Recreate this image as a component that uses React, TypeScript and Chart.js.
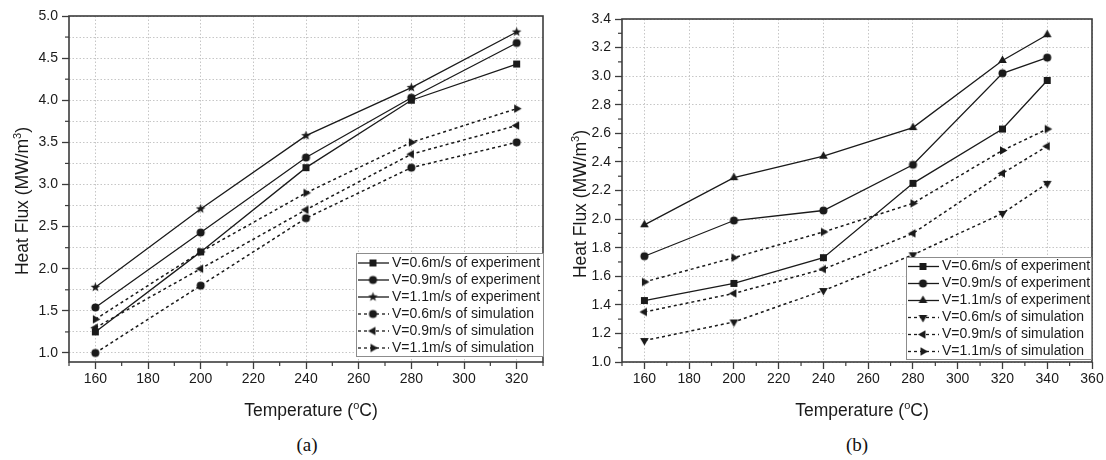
import React, { useEffect, useRef } from 'react';
import { Chart, registerables } from 'chart.js';

Chart.register(...registerables);

// ---------------- data ----------------
const temperaturesA = [160, 200, 240, 280, 320];
const expA06 = [1.25, 2.2, 3.2, 4.0, 4.43];
const expA09 = [1.54, 2.43, 3.32, 4.03, 4.68];
const expA11 = [1.78, 2.71, 3.58, 4.15, 4.81];
const simA06 = [1.0, 1.8, 2.6, 3.2, 3.5];
const simA09 = [1.3, 2.0, 2.7, 3.36, 3.7];
const simA11 = [1.4, 2.2, 2.9, 3.5, 3.9];

const temperaturesB = [160, 200, 240, 280, 320, 340];
const expB06 = [1.43, 1.55, 1.73, 2.25, 2.63, 2.97];
const expB09 = [1.74, 1.99, 2.06, 2.38, 3.02, 3.13];
const expB11 = [1.96, 2.29, 2.44, 2.64, 3.11, 3.29];
const simB06 = [1.15, 1.28, 1.5, 1.75, 2.04, 2.25];
const simB09 = [1.35, 1.48, 1.65, 1.9, 2.32, 2.51];
const simB11 = [1.56, 1.73, 1.91, 2.11, 2.48, 2.63];

const seriesLabels = [
  'V=0.6m/s of experiment',
  'V=0.9m/s of experiment',
  'V=1.1m/s of experiment',
  'V=0.6m/s of simulation',
  'V=0.9m/s of simulation',
  'V=1.1m/s of simulation',
];
const xTitleParts = ['Temperature (', 'o', 'C)'];
const yTitleParts = ['Heat Flux (MW/m', '3', ')'];
const panelLabels = ['(a)', '(b)'];

// ---------------- styles ----------------
const INK = '#1a1a1a';
const AXIS = '#3c3c3c';
const GRID = '#c6c6c6';
const FONT = "Arial, 'Liberation Sans', sans-serif";
const SERIF = "'Liberation Serif', 'Times New Roman', serif";

type Series = { data: number[]; marker: string; dashed: boolean };
type PanelCfg = {
  left: number;
  temps: number[];
  series: Series[];
  xMin: number; xMax: number; xStep: number; xMajor: number;
  yMin: number; yMax: number; yStep: number; yMajor: number; yGrid: number;
  padTop: number; padRight: number;
  legend: { x: number; y: number; w: number; h: number; first: number; rowH: number };
  yTitleX: number; yTitleY: number; xTitleDx: number; xTitleY: number;
};

const panelA: PanelCfg = {
  left: 0,
  temps: temperaturesA,
  series: [
    { data: expA06, marker: 'square', dashed: false },
    { data: expA09, marker: 'circle', dashed: false },
    { data: expA11, marker: 'star', dashed: false },
    { data: simA06, marker: 'circle', dashed: true },
    { data: simA09, marker: 'left', dashed: true },
    { data: simA11, marker: 'right', dashed: true },
  ],
  xMin: 150, xMax: 330, xStep: 10, xMajor: 20,
  yMin: 0.893, yMax: 5.0, yStep: 0.25, yMajor: 0.5, yGrid: 0.25,
  padTop: 16, padRight: 10,
  legend: { x: 356, y: 253, w: 187, h: 103, first: 10, rowH: 17 },
  yTitleX: 22, yTitleY: 201, xTitleDx: 5, xTitleY: 410,
};

const panelB: PanelCfg = {
  left: 553,
  temps: temperaturesB,
  series: [
    { data: expB06, marker: 'square', dashed: false },
    { data: expB09, marker: 'circle', dashed: false },
    { data: expB11, marker: 'up', dashed: false },
    { data: simB06, marker: 'down', dashed: true },
    { data: simB09, marker: 'left', dashed: true },
    { data: simB11, marker: 'right', dashed: true },
  ],
  xMin: 150, xMax: 360, xStep: 10, xMajor: 20,
  yMin: 1.0, yMax: 3.4, yStep: 0.1, yMajor: 0.2, yGrid: 0.2,
  padTop: 19, padRight: 14,
  legend: { x: 353, y: 257, w: 185, h: 102, first: 9.5, rowH: 17 },
  yTitleX: 27, yTitleY: 204, xTitleDx: 5, xTitleY: 410,
};

function isMult(v: number, step: number) {
  const r = v / step;
  return Math.abs(r - Math.round(r)) < 1e-6;
}

function makeMarker(kind: string): HTMLCanvasElement {
  const c = document.createElement('canvas');
  c.width = 13;
  c.height = 13;
  const ctx = c.getContext('2d')!;
  ctx.fillStyle = INK;
  const cx = 6.5, cy = 6.5;
  ctx.beginPath();
  const tri = (a0: number) => {
    const R = 5;
    for (let i = 0; i < 3; i++) {
      const a = a0 + (i * 2 * Math.PI) / 3;
      const x = cx + R * Math.cos(a), y = cy + R * Math.sin(a);
      if (i === 0) ctx.moveTo(x, y); else ctx.lineTo(x, y);
    }
    ctx.closePath();
  };
  if (kind === 'square') ctx.rect(cx - 3.5, cy - 3.5, 7, 7);
  else if (kind === 'circle') ctx.arc(cx, cy, 4, 0, Math.PI * 2);
  else if (kind === 'star') {
    for (let i = 0; i < 10; i++) {
      const r = i % 2 === 0 ? 5 : 2.1;
      const a = -Math.PI / 2 + (i * Math.PI) / 5;
      const x = cx + r * Math.cos(a), y = cy + r * Math.sin(a);
      if (i === 0) ctx.moveTo(x, y); else ctx.lineTo(x, y);
    }
    ctx.closePath();
  } else if (kind === 'up') tri(-Math.PI / 2);
  else if (kind === 'down') tri(Math.PI / 2);
  else if (kind === 'left') tri(Math.PI);
  else if (kind === 'right') tri(0);
  ctx.fill();
  return c;
}

function drawParts(ctx: CanvasRenderingContext2D, parts: string[], cx: number, baseline: number) {
  const big = `17.5px ${FONT}`;
  const small = `11px ${FONT}`;
  ctx.font = big;
  const w1 = ctx.measureText(parts[0]).width;
  const w3 = ctx.measureText(parts[2]).width;
  ctx.font = small;
  const w2 = ctx.measureText(parts[1]).width;
  let x = cx - (w1 + w2 + w3) / 2;
  ctx.textAlign = 'left';
  ctx.textBaseline = 'alphabetic';
  ctx.font = big;
  ctx.fillText(parts[0], x, baseline);
  x += w1;
  ctx.font = small;
  ctx.fillText(parts[1], x, baseline - 7.5);
  x += w2;
  ctx.font = big;
  ctx.fillText(parts[2], x, baseline);
}

function Panel({ cfg }: { cfg: PanelCfg }) {
  const ref = useRef<HTMLCanvasElement>(null);
  useEffect(() => {
    const canvas = ref.current!;
    const markers: Record<string, HTMLCanvasElement> = {};
    ['square', 'circle', 'star', 'up', 'down', 'left', 'right'].forEach((k) => (markers[k] = makeMarker(k)));

    const decor = {
      id: 'decor',
      afterDraw(chart: any) {
        const { ctx, chartArea: ca } = chart;
        ctx.save();
        // minor ticks
        ctx.strokeStyle = AXIS;
        ctx.lineWidth = 1.2;
        const xs = chart.scales.x, ys = chart.scales.y;
        xs.ticks.forEach((t: any) => {
          if (!isMult(t.value, cfg.xMajor) && isMult(t.value, cfg.xStep)) {
            const px = xs.getPixelForValue(t.value);
            ctx.beginPath(); ctx.moveTo(px, ca.bottom); ctx.lineTo(px, ca.bottom + 4); ctx.stroke();
          }
        });
        ys.ticks.forEach((t: any) => {
          if (!isMult(t.value, cfg.yMajor) && isMult(t.value, cfg.yStep)) {
            const py = ys.getPixelForValue(t.value);
            ctx.beginPath(); ctx.moveTo(ca.left - 4, py); ctx.lineTo(ca.left, py); ctx.stroke();
          }
        });
        // frame
        ctx.strokeStyle = AXIS;
        ctx.lineWidth = 1.6;
        ctx.strokeRect(ca.left, ca.top, ca.right - ca.left, ca.bottom - ca.top);
        // titles
        ctx.fillStyle = INK;
        drawParts(ctx, xTitleParts, (ca.left + ca.right) / 2 + cfg.xTitleDx, cfg.xTitleY + 6);
        ctx.save();
        ctx.translate(cfg.yTitleX, cfg.yTitleY);
        ctx.rotate(-Math.PI / 2);
        drawParts(ctx, yTitleParts, 0, 6);
        ctx.restore();
        // legend
        const L = cfg.legend;
        ctx.fillStyle = '#ffffff';
        ctx.fillRect(L.x, L.y, L.w, L.h);
        ctx.strokeStyle = '#8c8c8c';
        ctx.lineWidth = 1;
        ctx.strokeRect(L.x + 0.5, L.y + 0.5, L.w, L.h);
        cfg.series.forEach((s, i) => {
          const cy = L.y + L.first + i * L.rowH;
          ctx.strokeStyle = INK;
          ctx.lineWidth = 1.3;
          ctx.setLineDash(s.dashed ? [3, 3] : []);
          ctx.beginPath(); ctx.moveTo(L.x + 2, cy); ctx.lineTo(L.x + 33, cy); ctx.stroke();
          ctx.setLineDash([]);
          const m = markers[s.marker];
          ctx.drawImage(m, L.x + 17 - m.width / 2, cy - m.height / 2);
          ctx.fillStyle = INK;
          ctx.font = `14px ${FONT}`;
          ctx.textAlign = 'left';
          ctx.textBaseline = 'middle';
          ctx.fillText(seriesLabels[i], L.x + 36, cy);
        });
        ctx.restore();
      },
    };

    const chart = new Chart(canvas, {
      type: 'line',
      data: {
        datasets: cfg.series.map((s, i) => ({
          label: seriesLabels[i],
          data: cfg.temps.map((t, j) => ({ x: t, y: s.data[j] })),
          borderColor: INK,
          backgroundColor: INK,
          borderWidth: s.dashed ? 1.5 : 1.3,
          borderDash: s.dashed ? [3, 3] : [],
          pointStyle: markers[s.marker] as any,
          pointRadius: 4,
          pointHoverRadius: 4,
          fill: false,
          tension: 0,
        })),
      },
      options: {
        responsive: false,
        animation: false,
        devicePixelRatio: 1,
        layout: { padding: { left: 0, right: cfg.padRight, top: cfg.padTop, bottom: 0 } },
        plugins: { legend: { display: false }, tooltip: { enabled: false } },
        scales: {
          x: {
            type: 'linear',
            min: cfg.xMin,
            max: cfg.xMax,
            afterFit: (s: any) => { s.height = 60; },
            border: { display: false, dash: [1.5, 2] },
            grid: {
              lineWidth: 1,
              color: (c: any) => (c.tick && isMult(c.tick.value, cfg.xMajor) ? GRID : 'rgba(0,0,0,0)'),
              tickColor: (c: any) => (c.tick && isMult(c.tick.value, cfg.xMajor) ? AXIS : 'rgba(0,0,0,0)'),
              tickLength: 7,
              tickWidth: 1.3,
              tickBorderDash: [],
            },
            ticks: {
              stepSize: cfg.xStep,
              autoSkip: false,
              maxRotation: 0,
              includeBounds: false,
              padding: 2,
              color: INK,
              font: { family: FONT, size: 14 },
              callback: (v: any) => (isMult(Number(v), cfg.xMajor) ? String(v) : ''),
            },
          },
          y: {
            type: 'linear',
            min: cfg.yMin,
            max: cfg.yMax,
            afterFit: (s: any) => { s.width = 69; },
            border: { display: false, dash: [1.5, 2] },
            grid: {
              lineWidth: 1,
              color: (c: any) => (c.tick && isMult(c.tick.value, cfg.yGrid) ? GRID : 'rgba(0,0,0,0)'),
              tickColor: (c: any) => (c.tick && isMult(c.tick.value, cfg.yMajor) ? AXIS : 'rgba(0,0,0,0)'),
              tickLength: 7,
              tickWidth: 1.3,
              tickBorderDash: [],
            },
            ticks: {
              stepSize: cfg.yStep,
              autoSkip: false,
              includeBounds: false,
              padding: 4,
              color: INK,
              font: { family: FONT, size: 14 },
              callback: (v: any) => (isMult(Number(v), cfg.yMajor) ? Number(v).toFixed(1) : ''),
            },
          },
        },
      },
      plugins: [decor],
    } as any);
    return () => chart.destroy();
  }, [cfg]);
  return (
    <canvas
      ref={ref}
      width={553}
      height={422}
      style={{ position: 'absolute', left: cfg.left, top: 0, width: 553, height: 422 }}
    />
  );
}

export default function App() {
  return (
    <div
      style={{
        position: 'fixed',
        left: 0,
        top: 0,
        width: 1106,
        height: 460,
        background: '#ffffff',
        overflow: 'hidden',
      }}
    >
      <Panel cfg={panelA} />
      <Panel cfg={panelB} />
      <div
        style={{
          position: 'absolute', left: 257, top: 434, width: 100, textAlign: 'center',
          fontFamily: SERIF, fontSize: 19, lineHeight: '22px', color: '#111',
        }}
      >
        {panelLabels[0]}
      </div>
      <div
        style={{
          position: 'absolute', left: 807, top: 434, width: 100, textAlign: 'center',
          fontFamily: SERIF, fontSize: 19, lineHeight: '22px', color: '#111',
        }}
      >
        {panelLabels[1]}
      </div>
    </div>
  );
}
